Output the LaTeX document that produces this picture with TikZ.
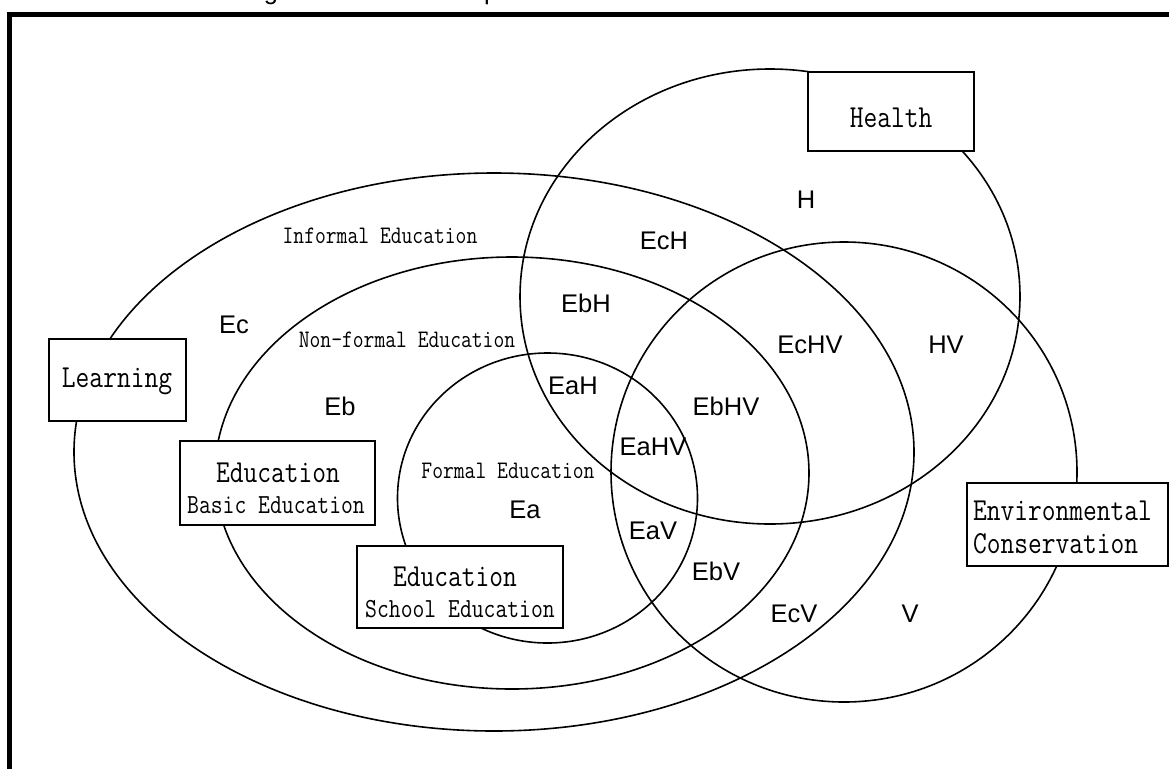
\documentclass[tikz,border=0pt]{standalone}
\usepackage{fontspec}
\newfontfamily\labfont{Liberation Sans}
\newcommand{\tall}[1]{\scalebox{1}[1.2]{#1}}
\begin{document}
\begin{tikzpicture}[x=1pt,y=-1pt,
  ell/.style={line width=1.6pt},
  box/.style={draw, line width=1.8pt, fill=white, inner sep=0pt},
  lbl/.style={font=\labfont\fontsize{25.5}{30}\selectfont, inner sep=0pt, anchor=base},
  edu/.style={font=\ttfamily\fontsize{21}{24}\selectfont, inner sep=0pt, anchor=base},
  big/.style={font=\ttfamily\fontsize{26.7}{30}\selectfont, inner sep=0pt, anchor=base},
  sub/.style={font=\ttfamily\fontsize{23}{26}\selectfont, inner sep=0pt, anchor=base},
]
\useasboundingbox (0,0) rectangle (1169,769);
\fill[white] (0,0) rectangle (1169,769);
% frame
\draw[line width=4.5pt] (9.5,769) -- (9.5,14.5) -- (1169,14.5);
\node[lbl, anchor=base] (tg) at (271,-1) {g};
\node[lbl, anchor=base west] (tp) at (484,-1) {p};
% ellipses
\draw[ell] (494,452) ellipse [x radius=420, y radius=279];
\draw[ell] (512,473) ellipse [x radius=297, y radius=216];
\draw[ell] (547.5,498) ellipse [x radius=150, y radius=145];
\draw[ell] (770,296.5) ellipse [x radius=250, y radius=227.5];
\draw[ell] (844,472) ellipse [x radius=233, y radius=230];
% boxes
\node[box, minimum width=137, minimum height=82] (learnbox) at (117.5,380) {};
\node[box, minimum width=166, minimum height=79] (healthbox) at (891,111.5) {};
\node[box, minimum width=195, minimum height=84] (basicbox) at (277.5,483) {};
\node[box, minimum width=206, minimum height=82] (schoolbox) at (460,587) {};
\node[box, minimum width=201, minimum height=83] (envbox) at (1067.5,524.5) {};
% box texts
\node[big] (learn) at (117,387) {\tall{Learning}};
\node[big] (health) at (891,127) {\tall{Health}};
\node[big] (edu1) at (278,482) {\tall{Education}};
\node[sub] (basic) at (276,513) {\tall{Basic Education}};
\node[big] (edu2) at (455,586) {\tall{Education}};
\node[sub] (school) at (460,617) {\tall{School Education}};
\node[big, anchor=base west] (env1) at (973,520) {\tall{Environmental}};
\node[big, anchor=base west] (env2) at (973,553) {\tall{Conservation}};
% region names
\node[edu] (informal) at (380,243) {\tall{Informal Education}};
\node[edu] (nonformal) at (407,347) {\tall{Non-formal Education}};
\node[edu] (formal) at (508,478) {\tall{Formal Education}};
% labels
\node[lbl] (Ec) at (234,333) {Ec};
\node[lbl] (Eb) at (340,415) {Eb};
\node[lbl] (EcH) at (664,249) {EcH};
\node[lbl] (EbH) at (586,312) {EbH};
\node[lbl] (EaH) at (573,394) {EaH};
\node[lbl] (H) at (806,208) {H};
\node[lbl] (EcHV) at (810,353) {EcHV};
\node[lbl] (HV) at (946,353) {HV};
\node[lbl] (EbHV) at (726,415) {EbHV};
\node[lbl] (EaHV) at (653,455) {EaHV};
\node[lbl] (Ea) at (525,518) {Ea};
\node[lbl] (EaV) at (653,539) {EaV};
\node[lbl] (EbV) at (716,580) {EbV};
\node[lbl] (EcV) at (794,622) {EcV};
\node[lbl] (V) at (910,622) {V};
\end{tikzpicture}
\end{document}
